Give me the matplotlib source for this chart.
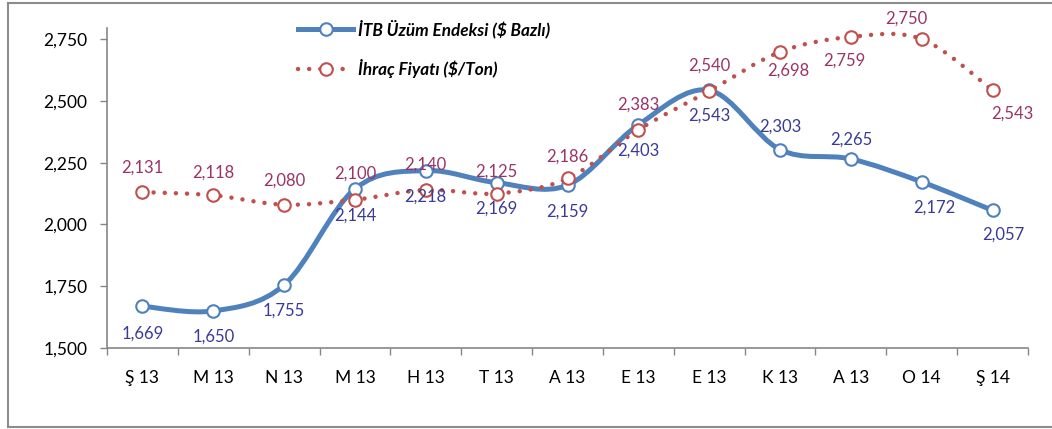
import numpy as np
import matplotlib
matplotlib.use('Agg')
import matplotlib.pyplot as plt
from matplotlib.path import Path
from matplotlib.patches import PathPatch
from matplotlib.lines import Line2D
from matplotlib.ticker import FuncFormatter

plt.rcParams['font.family'] = ['Lato', 'DejaVu Sans']

months = ['Ş 13', 'M 13', 'N 13', 'M 13', 'H 13', 'T 13', 'A 13',
          'E 13', 'E 13', 'K 13', 'A 13', 'O 14', 'Ş 14']
itb_index = [1669, 1650, 1755, 2144, 2218, 2169, 2159, 2403, 2543, 2303, 2265, 2172, 2057]
export_price = [2131, 2118, 2080, 2100, 2140, 2125, 2186, 2383, 2540, 2698, 2759, 2750, 2543]

# label offsets in pixels (dx, dy), dy positive = up
itb_offsets = [(0, -27), (0, -26), (0, -26), (0, -27), (0, -26), (0, -26), (0, -26),
               (0, -26), (0, -25), (0, 23), (0, 19), (13, -26), (11, -24)]
exp_offsets = [(0, 24), (0, 23), (0, 24), (0, 26), (0, 25), (0, 22), (0, 22),
               (0, 25), (0, 25), (8, -19), (-7, -24), (-15, 20), (20, -23)]

blue = '#4F81BD'
red = '#C0504D'
blue_txt = '#3A3A98'
red_txt = '#9B3366'
axis_grey = '#868686'


def smooth_path(xs, ys):
    # Excel-like smoothed line: cubic Bezier through the points
    pts = np.column_stack([xs, ys]).astype(float)
    n = len(pts)
    verts = [pts[0]]
    codes = [Path.MOVETO]
    for i in range(n - 1):
        p0 = pts[i - 1] if i > 0 else pts[i]
        p1 = pts[i]
        p2 = pts[i + 1]
        p3 = pts[i + 2] if i + 2 < n else pts[i + 1]
        c1 = p1 + (p2 - p0) / 6.0
        c2 = p2 - (p3 - p1) / 6.0
        verts += [c1, c2, p2]
        codes += [Path.CURVE4] * 3
    return Path(verts, codes)


fig = plt.figure(figsize=(10.52, 4.29), dpi=100)
ax = fig.add_axes([107 / 1052, 81 / 429, 921 / 1052, 320 / 429])

x = np.arange(len(months))

blue_patch = PathPatch(smooth_path(x, itb_index), fill=False, edgecolor=blue,
                       linewidth=3.6, capstyle='round', joinstyle='round', zorder=2)
ax.add_patch(blue_patch)
ax.plot(x, itb_index, linestyle='none', marker='o', markersize=9,
        markerfacecolor='white', markeredgecolor=blue, markeredgewidth=1.5, zorder=3)

red_patch = PathPatch(smooth_path(x, export_price), fill=False, edgecolor=red,
                      linewidth=3.2, linestyle=(0, (0.01, 2.5)), capstyle='round', zorder=4)
ax.add_patch(red_patch)
ax.plot(x, export_price, linestyle='none', marker='o', markersize=9,
        markerfacecolor='white', markeredgecolor=red, markeredgewidth=1.5, zorder=5)

for xi, v, (dx, dy) in zip(x, itb_index, itb_offsets):
    ax.annotate(f'{v:,}', (xi, v), xytext=(dx, dy), textcoords='offset pixels',
                ha='center', va='center', fontsize=12, color=blue_txt, zorder=6)
for xi, v, (dx, dy) in zip(x, export_price, exp_offsets):
    ax.annotate(f'{v:,}', (xi, v), xytext=(dx, dy), textcoords='offset pixels',
                ha='center', va='center', fontsize=12, color=red_txt, zorder=6)

ax.set_xlim(-0.5, len(months) - 0.5)
ax.set_ylim(1500, 2795)
ax.set_yticks([1500, 1750, 2000, 2250, 2500, 2750])
ax.yaxis.set_major_formatter(FuncFormatter(lambda v, p: f'{int(v):,}'))
ax.set_xticks(np.arange(len(months) + 1) - 0.5)
ax.set_xticklabels([])
ax.set_xticks(x, minor=True)
ax.set_xticklabels(months, minor=True)
ax.tick_params(axis='x', which='major', direction='out', length=5, color=axis_grey, width=1)
ax.tick_params(axis='x', which='minor', length=0, pad=16, labelsize=12.5)
ax.tick_params(axis='y', direction='out', length=5, color=axis_grey, width=1, pad=9, labelsize=12.5)

for s in ['top', 'right']:
    ax.spines[s].set_visible(False)
for s in ['left', 'bottom']:
    ax.spines[s].set_color(axis_grey)
    ax.spines[s].set_linewidth(1.2)

h1 = Line2D([], [], color=blue, linewidth=3.6, marker='o', markersize=9,
            markerfacecolor='white', markeredgecolor=blue, markeredgewidth=1.5)
h2 = Line2D([], [], color=red, linewidth=3.2, linestyle=(0, (0.01, 2.5)),
            dash_capstyle='round', marker='o', markersize=9,
            markerfacecolor='white', markeredgecolor=red, markeredgewidth=1.5)
leg = fig.legend([h1, h2], ['İTB Üzüm Endeksi ($ Bazlı)', 'İhraç Fiyatı ($/Ton)'],
                 loc='upper left', bbox_to_anchor=(283 / 1052, 1 - 4 / 429),
                 frameon=False, handlelength=3.2, handletextpad=0.3, labelspacing=1.25,
                 prop={'size': 12.3, 'weight': 'bold', 'style': 'italic'})

# outer chart frame
fy0, fy1, fx0 = 2 / 429, 1 - 3 / 429, 8 / 1052
for xs, ys in [([fx0, fx0], [fy0, fy1]), ([fx0, 1.0], [fy1, fy1]), ([fx0, 1.0], [fy0, fy0])]:
    fig.add_artist(Line2D(xs, ys, color='#8C8C8C', linewidth=1.5, transform=fig.transFigure))

fig.savefig('out.png', dpi=100)
